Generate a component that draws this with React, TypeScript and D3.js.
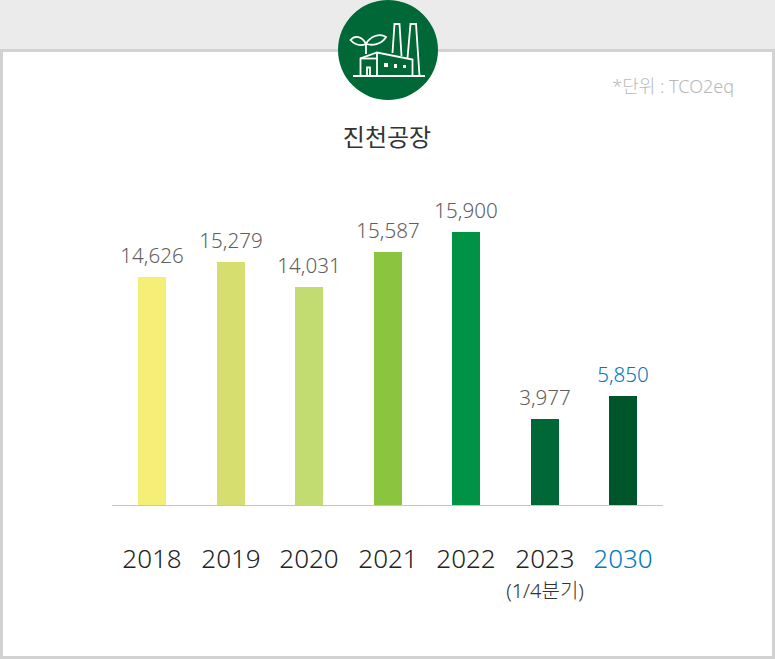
import React from "react";
import * as d3 from "d3";

const categories = ["2018", "2019", "2020", "2021", "2022", "2023", "2030"];
const values = [14626, 15279, 14031, 15587, 15900, 3977, 5850];
const barColors = ["#f6ef77", "#d5de6f", "#c2dc72", "#8bc53f", "#009245", "#006837", "#00562b"];
const subLabels: Record<string, string> = { "2023": "(1/4분기)" };
const highlight = "2030";
const title = "진천공장";
const unit = "*단위 : TCO2eq";

const W = 775, H = 659;
const baseY = 505.5;
const sans = "'Noto Sans', 'Noto Sans CJK KR', sans-serif";

const x = d3.scaleBand<string>().domain(categories).range([113, 662.5]).paddingInner(0.643).paddingOuter(0.32);
// The source graphic is not drawn to a linear scale, so the scale is piecewise
const y = d3.scaleLinear()
  .domain([0, 3977, 5850, 14031, 14626, 15279, 15587, 15900])
  .range([baseY, 419, 396, 287, 277, 262, 252, 232]);

const fmt = d3.format(",");

export default function App() {
  return (
    <svg width={W} height={H} viewBox={`0 0 ${W} ${H}`}
      style={{ position: "absolute", left: 0, top: 0, display: "block" }} fontFamily={sans} fontWeight={300}>
      <rect width={W} height={H} fill="#fff" />
      <rect width={W} height={50} fill="#ebebeb" />
      <rect x={1.5} y={50.5} width={W - 3} height={H - 52} fill="#fff" stroke="#d2d2d2" strokeWidth={3} />

      <circle cx={388} cy={50} r={50} fill="#006837" />
      <g fill="none" stroke="#fff" strokeWidth={1.8} strokeLinejoin="miter">
        <path d="M353 76H425" />
        <path d="M360.500 76V58.500L377 52.500L412.500 59.500V76" />
        <path d="M360.500 58.500L377 58.500" />
        <path d="M377 52.500V76" />
        <path d="M367 76V67.500H370V76" />
        <path d="M392.500 53L394.500 24H399.500L401.500 56" />
        <path d="M407.500 58L410.500 24H416L419.500 76" />
        <path d="M366 54V45" />
        <path d="M366 44C362 36 355 35 350.500 40C355 45 361 46 366 44Z" />
        <path d="M366 44C370 36 380 33 386 37C382 44 373 46 366 44Z" />
      </g>
      <g fill="#fff">
        <rect x={384} y={63} width={4} height={4} />
        <rect x={394} y={64} width={3} height={4} />
        <rect x={403} y={65} width={3} height={3} />
      </g>

      <text x={734} y={93} textAnchor="end" fontSize={18} fill="#b8b8b8">{unit}</text>
      <text x={387} y={146} textAnchor="middle" fontSize={24} fill="#333" fontFamily="'Noto Sans CJK KR', sans-serif" fontWeight={400}>{title}</text>

      {categories.map((c, i) => {
        const cx = Math.round(x(c)!) + 14;
        const hot = c === highlight;
        return (
          <g key={c}>
            <rect x={Math.round(x(c)!)} y={y(values[i])} width={Math.round(x.bandwidth())} height={baseY - y(values[i])} fill={barColors[i]} />
            <text x={cx} y={y(values[i]) - 14} textAnchor="middle" fontSize={20.6} fill={hot ? "#0079c0" : "#5f5f5f"}>{fmt(values[i])}</text>
            <text x={cx} y={568} textAnchor="middle" fontSize={26} fill={hot ? "#0079c0" : "#222"} fontWeight={350}>{c}</text>
            {subLabels[c] && <text x={cx} y={598} textAnchor="middle" fontSize={20} fill="#333">{subLabels[c]}</text>}
          </g>
        );
      })}
      <line x1={112} x2={663} y1={baseY} y2={baseY} stroke="#c4c4c4" strokeWidth={1} />
    </svg>
  );
}
